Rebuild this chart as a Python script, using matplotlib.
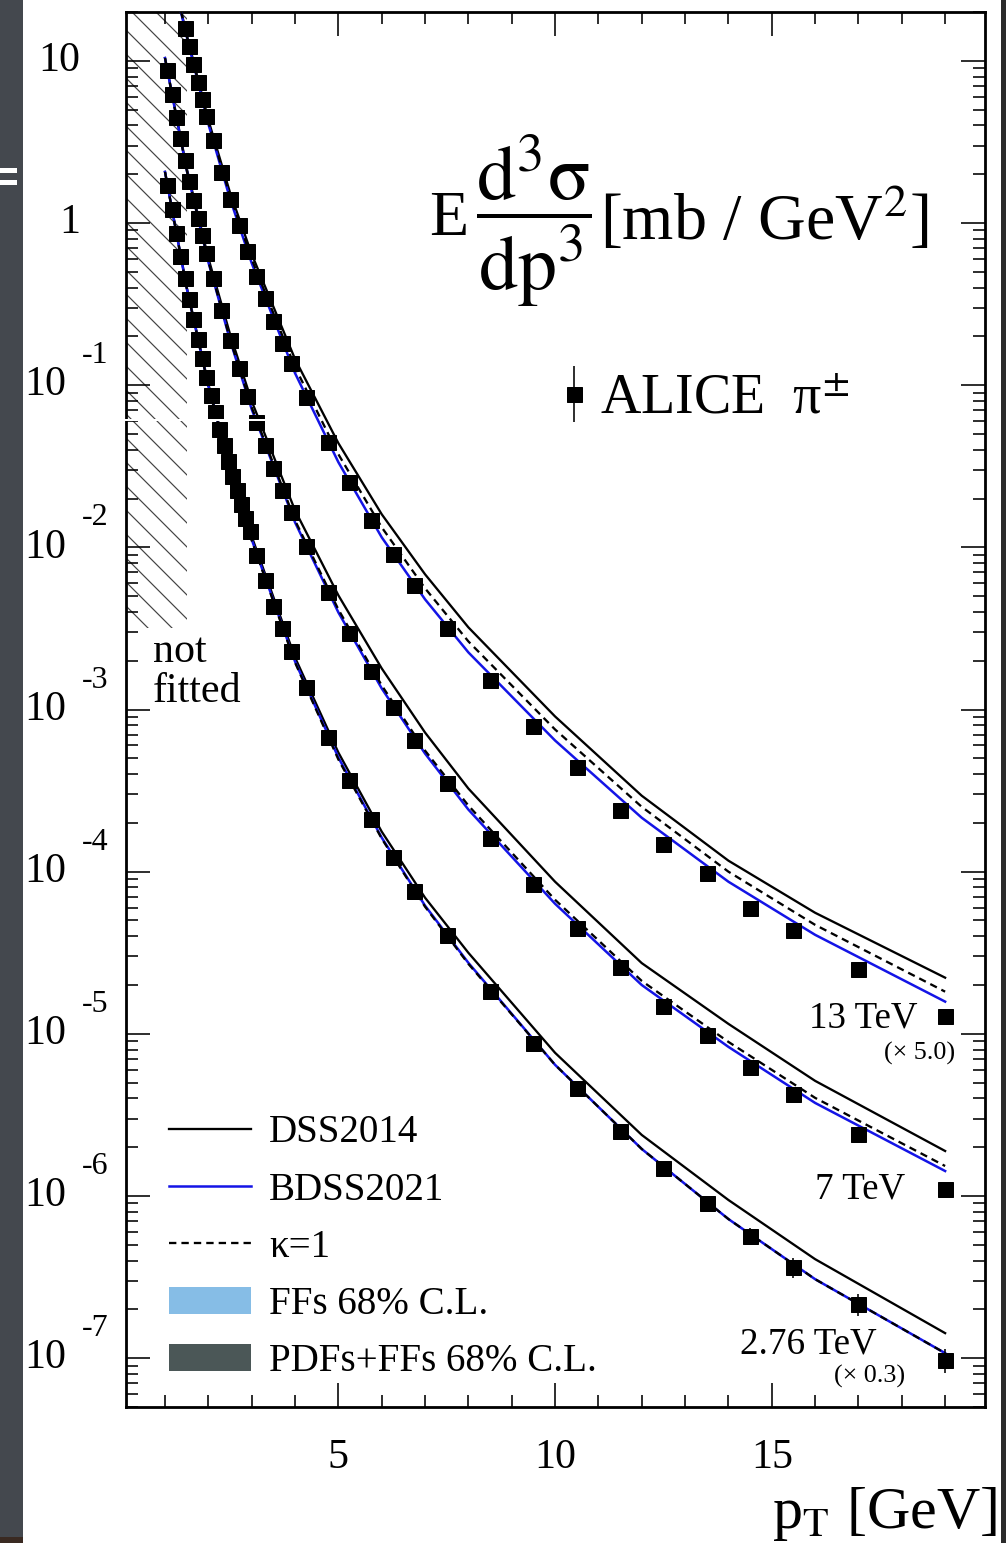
import matplotlib
matplotlib.use('Agg')
import matplotlib.pyplot as plt
import matplotlib.patches as patches
import matplotlib.transforms as mtransforms
from matplotlib.lines import Line2D
from matplotlib.patches import Patch
from matplotlib.container import ErrorbarContainer
from matplotlib.legend_handler import HandlerErrorbar
from matplotlib.ticker import MultipleLocator, LogLocator, NullFormatter

plt.rcParams['font.family'] = ['Liberation Serif', 'DejaVu Serif']
plt.rcParams['mathtext.fontset'] = 'stix'
plt.rcParams['hatch.linewidth'] = 1.2

# ALICE pi+- data as shown (13 TeV already x5.0, 2.76 TeV already x0.3)
PT_13 = [1.45, 1.55, 1.65, 1.75, 1.85, 1.95, 2.1, 2.3, 2.5, 2.7, 2.9, 3.1, 3.3, 3.5, 3.7, 3.9,
         4.25, 4.75, 5.25, 5.75, 6.25, 6.75, 7.5, 8.5, 9.5, 10.5, 11.5, 12.5, 13.5, 14.5, 15.5, 17.0, 19.0]
Y_13 = [15.99, 12.38, 9.58, 7.42, 5.83, 4.58, 3.25, 2.065, 1.406, 0.972, 0.672, 0.471, 0.344, 0.248,
        0.1817, 0.1367, 0.0843, 0.0445, 0.0252, 0.01468, 0.00905, 0.00582, 0.00316, 0.00151,
        7.96e-4, 4.45e-4, 2.41e-4, 1.49e-4, 9.86e-5, 5.99e-5, 4.39e-5, 2.52e-5, 1.29e-5]

PT_7 = [1.05, 1.15, 1.25, 1.35, 1.45, 1.55, 1.65, 1.75, 1.85, 1.95,
        2.1, 2.3, 2.5, 2.7, 2.9, 3.1, 3.3, 3.5, 3.7, 3.9,
        4.25, 4.75, 5.25, 5.75, 6.25, 6.75, 7.5, 8.5, 9.5, 10.5, 11.5, 12.5, 13.5, 14.5, 15.5, 17.0, 19.0]
Y_7 = [8.80, 6.26, 4.51, 3.35, 2.448, 1.816, 1.387, 1.074, 0.843, 0.653,
       0.4575, 0.290, 0.1896, 0.1273, 0.0855, 0.0591, 0.0426, 0.0307, 0.0225, 0.01644,
       0.01014, 0.00528, 0.002944, 0.001716, 0.001043, 6.53e-4, 3.54e-4, 1.621e-4, 8.43e-5,
       4.51e-5, 2.59e-5, 1.489e-5, 9.86e-6, 6.25e-6, 4.26e-6, 2.41e-6, 1.104e-6]

PT_276 = [1.05, 1.15, 1.25, 1.35, 1.45, 1.55, 1.65, 1.75, 1.85, 1.95,
          2.05, 2.15, 2.25, 2.35, 2.45, 2.55, 2.65, 2.75, 2.85, 2.95,
          3.1, 3.3, 3.5, 3.7, 3.9, 4.25, 4.75, 5.25, 5.75, 6.25, 6.75,
          7.5, 8.5, 9.5, 10.5, 11.5, 12.5, 13.5, 14.5, 15.5, 17.0, 19.0]
Y_276 = [1.717, 1.220, 0.868, 0.626, 0.4575, 0.3396, 0.2556, 0.1923, 0.1468, 0.1120,
         0.0868, 0.0681, 0.0535, 0.0426, 0.0340, 0.0274, 0.0225, 0.01842, 0.01510, 0.01256,
         0.00893, 0.00626, 0.00432, 0.00316, 0.00231, 0.001367, 6.81e-4, 3.70e-4, 2.124e-4,
         1.238e-4, 7.63e-5, 4.08e-5, 1.842e-5, 8.80e-6, 4.64e-6, 2.52e-6, 1.489e-6, 9.05e-7,
         5.66e-7, 3.64e-7, 2.154e-7, 9.72e-8]
# relative errors, only visible on the last 2.76 TeV points
ERR_276 = [0.0] * 36 + [0.10, 0.11, 0.12, 0.14, 0.15, 0.17]

# theory curves
PT_TH = [1.0, 1.5, 2.0, 2.5, 3.0, 4.0, 5.0, 6.0, 7.0, 8.0, 10.0, 12.0, 14.0, 16.0, 19.0]
BDSS_13 = [53.5, 14.1, 4.08, 1.41, 0.566, 0.1186, 0.0335, 0.01153, 0.00478, 0.00225,
           6.44e-4, 2.15e-4, 8.67e-5, 4.08e-5, 1.58e-5]
K1_13 = [53.5, 14.3, 4.20, 1.47, 0.599, 0.1292, 0.0375, 0.01329, 0.00559, 0.00263,
         7.53e-4, 2.51e-4, 1.00e-4, 4.70e-5, 1.82e-5]
DSS_13 = [53.5, 14.5, 4.32, 1.54, 0.643, 0.1448, 0.0439, 0.0160, 0.00682, 0.00321,
          9.06e-4, 2.94e-4, 1.169e-4, 5.58e-5, 2.22e-5]
BDSS_7 = [10.4, 2.12, 0.574, 0.1897, 0.0711, 0.01426, 0.00397, 0.001349, 5.35e-4, 2.415e-4,
          6.34e-5, 2.00e-5, 8.31e-6, 3.75e-6, 1.426e-6]
K1_7 = [10.4, 2.12, 0.582, 0.1924, 0.0731, 0.01467, 0.00414, 0.001408, 5.58e-4, 2.556e-4,
        6.71e-5, 2.12e-5, 8.92e-6, 4.03e-6, 1.531e-6]
DSS_7 = [10.4, 2.18, 0.608, 0.2066, 0.0797, 0.01691, 0.00506, 0.001793, 7.21e-4, 3.255e-4,
         8.67e-5, 2.73e-5, 1.152e-5, 5.13e-6, 1.895e-6]
BDSS_276 = [2.065, 0.397, 0.0986, 0.0308, 0.01119, 0.001977, 5.06e-4, 1.622e-4, 6.17e-5, 2.74e-5,
            6.44e-6, 1.95e-6, 7.21e-7, 3.07e-7, 1.074e-7]
K1_276 = [2.065, 0.397, 0.0986, 0.0308, 0.01103, 0.001949, 4.92e-4, 1.599e-4, 6.08e-5, 2.70e-5,
          6.44e-6, 1.95e-6, 7.21e-7, 3.07e-7, 1.074e-7]
DSS_276 = [2.065, 0.403, 0.1014, 0.0317, 0.01168, 0.002093, 5.43e-4, 1.766e-4, 6.91e-5, 3.16e-5,
           7.64e-6, 2.38e-6, 9.45e-7, 4.08e-7, 1.427e-7]

NOT_FITTED_PT = 1.5
NOT_FITTED_YMIN = 3.2e-3
XMIN, XMAX = 0.1, 19.92
YMIN, YMAX = 5e-8, 20.0
YTICKS = [10.0, 1.0, 1e-1, 1e-2, 1e-3, 1e-4, 1e-5, 1e-6, 1e-7]
YEXP = [1, 0, -1, -2, -3, -4, -5, -6, -7]

LEG_LABELS = ['DSS2014', 'BDSS2021', 'κ=1', 'FFs 68% C.L.', 'PDFs+FFs 68% C.L.']

BLUE = '#1414e6'
FF_COLOR = '#86bde6'
PDF_COLOR = '#4b5757'
DASH = (0, (3.2, 2.2))

W, H = 1006, 1543
fig = plt.figure(figsize=(W / 72, H / 72), dpi=72)
ax = fig.add_axes([126 / W, 1 - 1407 / H, (985 - 126) / W, (1407 - 12) / H])

# not fitted region
ax.fill_between([XMIN, NOT_FITTED_PT], NOT_FITTED_YMIN, YMAX, facecolor='none',
                edgecolor='#444444', hatch='\\', linewidth=0, zorder=1)

for dss, bdss, k1 in [(DSS_13, BDSS_13, K1_13), (DSS_7, BDSS_7, K1_7), (DSS_276, BDSS_276, K1_276)]:
    ax.plot(PT_TH, dss, color='black', lw=2.3, zorder=2)
    ax.plot(PT_TH, bdss, color=BLUE, lw=2.5, zorder=3)
    ax.plot(PT_TH, k1, color='black', lw=2.3, ls=DASH, zorder=4)

ax.plot(PT_13, Y_13, 's', color='black', ms=15, zorder=5)
ax.plot(PT_7, Y_7, 's', color='black', ms=15, zorder=5)
yerr = [y * e for y, e in zip(Y_276, ERR_276)]
eb = ax.errorbar(PT_276, Y_276, yerr=yerr, fmt='s', color='black', ms=15,
                 elinewidth=1.6, capsize=0, zorder=5)

ax.set_yscale('log')
ax.set_xlim(XMIN, XMAX)
ax.set_ylim(YMIN, YMAX)
ax.xaxis.set_major_locator(MultipleLocator(5))
ax.xaxis.set_minor_locator(MultipleLocator(1))
ax.yaxis.set_major_locator(LogLocator(base=10, numticks=20))
ax.yaxis.set_minor_locator(LogLocator(base=10, subs=range(2, 10), numticks=20))
ax.yaxis.set_minor_formatter(NullFormatter())
ax.tick_params(which='both', direction='in', top=True, right=True, width=1.6,
               labelleft=False, labelsize=42, pad=32)
ax.tick_params(which='major', length=24)
ax.tick_params(which='minor', length=12)
for s in ax.spines.values():
    s.set_linewidth(2.8)

# ROOT style y labels
lab_tr = mtransforms.blended_transform_factory(fig.transFigure, ax.transData)
exp_tr = mtransforms.offset_copy(lab_tr, fig=fig, y=22, units='points')
for v, e in zip(YTICKS, YEXP):
    if e == 1:
        ax.text(80 / W, v, '10', transform=lab_tr, ha='right', va='center', fontsize=42)
    elif e == 0:
        ax.text(80 / W, v, '1', transform=lab_tr, ha='right', va='center', fontsize=42)
    else:
        ax.text(66 / W, v, '10', transform=lab_tr, ha='right', va='center', fontsize=42)
        ax.text(82 / W, v, str(e), transform=exp_tr, ha='left', va='baseline', fontsize=32)

fig.text(772 / W, 1 - 1528 / H, r'p$_{\mathrm{T}}$ [GeV]', fontsize=60, ha='left', va='baseline')

# y quantity written inside the frame, ROOT style
ax.text(0.3981, 0.8403, 'E', transform=ax.transAxes, ha='right', va='baseline', fontsize=64)
ax.text(0.4745, 0.8505, r'$\dfrac{\mathrm{d^{3}\sigma}}{\mathrm{dp^{3}}}$',
        transform=ax.transAxes, ha='center', va='center', fontsize=78)
ax.text(0.5518, 0.8367, '[mb / GeV$^{2}$]', transform=ax.transAxes, ha='left', va='baseline',
        fontsize=66)

ax.text(0.922, 0.2717, '13 TeV', transform=ax.transAxes, ha='right', va='baseline', fontsize=37)
ax.text(0.965, 0.2488, '(× 5.0)', transform=ax.transAxes, ha='right', va='baseline', fontsize=26)
ax.text(0.907, 0.1498, '7 TeV', transform=ax.transAxes, ha='right', va='baseline', fontsize=37)
ax.text(0.874, 0.0387, '2.76 TeV', transform=ax.transAxes, ha='right', va='baseline', fontsize=37)
ax.text(0.907, 0.0172, '(× 0.3)', transform=ax.transAxes, ha='right', va='baseline', fontsize=26)
ax.text(0.0314, 0.534, 'not', transform=ax.transAxes, ha='left', va='baseline', fontsize=42)
ax.text(0.0314, 0.5055, 'fitted', transform=ax.transAxes, ha='left', va='baseline', fontsize=42)

handles = [Line2D([], [], color='black', lw=2.3),
           Line2D([], [], color=BLUE, lw=2.5),
           Line2D([], [], color='black', lw=2.3, ls=DASH),
           Patch(facecolor=FF_COLOR, edgecolor='none'),
           Patch(facecolor=PDF_COLOR, edgecolor='none')]
leg = ax.legend(handles, LEG_LABELS, loc='lower left', bbox_to_anchor=(0.050, 0.019),
                fontsize=39, frameon=False, handlelength=2.1, handleheight=0.7,
                handletextpad=0.46, labelspacing=0.52, borderpad=0, borderaxespad=0)
ax.add_artist(leg)

leg2 = ax.legend([eb], ['ALICE  π$^{\\pm}$'], loc='center left', bbox_to_anchor=(0.5025, 0.722),
                 fontsize=56, frameon=False, handlelength=0.6, handletextpad=0.15,
                 borderpad=0, borderaxespad=0,
                 handler_map={ErrorbarContainer: HandlerErrorbar(xerr_size=0, yerr_size=0.5)})

# slide background around the screenshot
fig.patches.append(patches.Rectangle((0, 0), 23 / W, 1, transform=fig.transFigure,
                                     facecolor='#44484e', edgecolor='none', zorder=10))
fig.patches.append(patches.Rectangle((0, 0), 23 / W, 6 / H, transform=fig.transFigure,
                                     facecolor='#3a2a22', edgecolor='none', zorder=11))
fig.patches.append(patches.Rectangle((1001 / W, 0), 5 / W, 1, transform=fig.transFigure,
                                     facecolor='#2b2b2b', edgecolor='none', zorder=10))
for y0 in (168, 180):
    fig.patches.append(patches.Rectangle((0, 1 - (y0 + 5) / H), 17 / W, 5 / H, transform=fig.transFigure,
                                         facecolor='white', edgecolor='none', zorder=11))
fig.patches.append(patches.Rectangle((123 / W, 1 - 421 / H), 142 / W, 2 / H, transform=fig.transFigure,
                                     facecolor='white', edgecolor='none', zorder=11))

fig.savefig('out.png', dpi=72)
